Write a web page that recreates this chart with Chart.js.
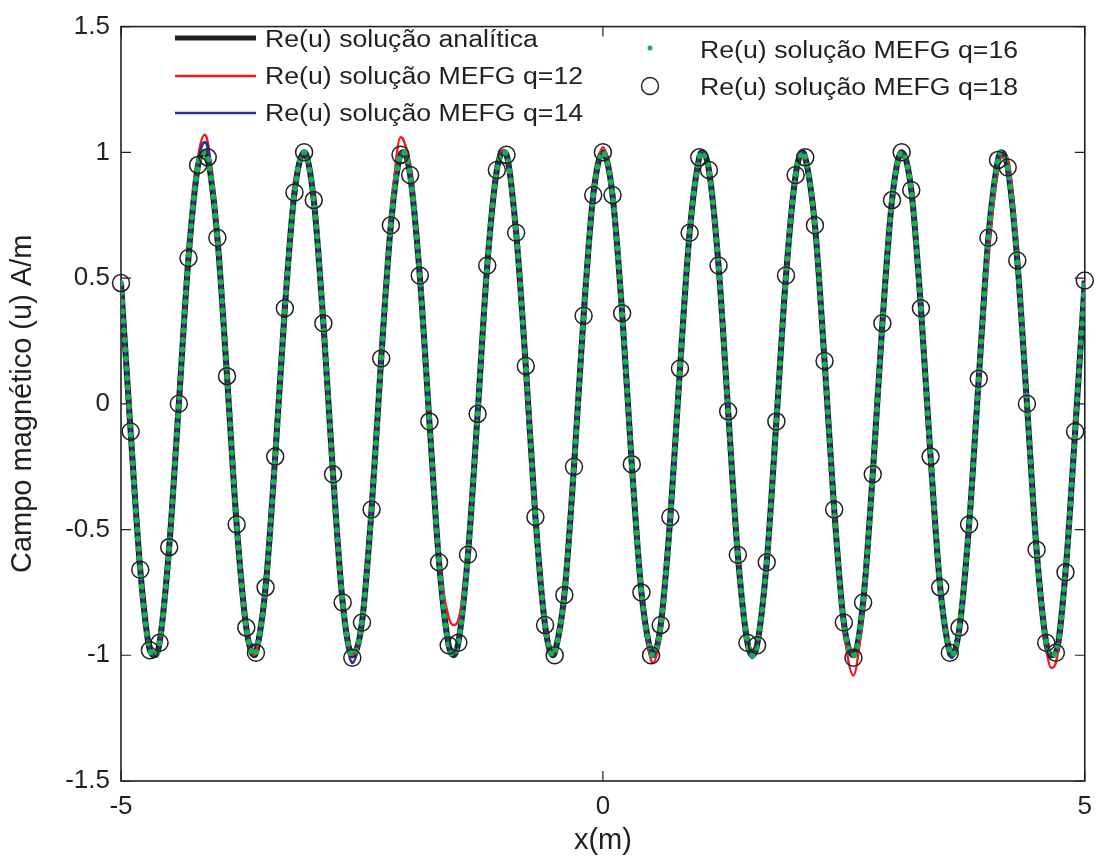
<!DOCTYPE html>
<html lang="pt">
<head>
<meta charset="utf-8">
<title>Campo magnético - soluções MEFG</title>
<script src="https://cdn.jsdelivr.net/npm/chart.js@4.4.1/dist/chart.umd.min.js"></script>
<style>
  html, body { margin: 0; padding: 0; background: #fff; }
  #grafico { display: block; }
</style>
</head>
<body>
<canvas id="grafico" width="1102" height="861"></canvas>
<script>
// --- Dados ---
const rotulos = [
    'Re(u) solução analítica',
    'Re(u) solução MEFG q=12',
    'Re(u) solução MEFG q=14',
    'Re(u) solução MEFG q=16',
    'Re(u) solução MEFG q=18'
];

// pontos (círculos) da solução q=18, um a cada 0,1 m
const xAmostras = [
    -5, -4.9, -4.8, -4.7, -4.6, -4.5, -4.4, -4.3, -4.2, -4.1,
    -4, -3.9, -3.8, -3.7, -3.6, -3.5, -3.4, -3.3, -3.2, -3.1,
    -3, -2.9, -2.8, -2.7, -2.6, -2.5, -2.4, -2.3, -2.2, -2.1,
    -2, -1.9, -1.8, -1.7, -1.6, -1.5, -1.4, -1.3, -1.2, -1.1,
    -1, -0.9, -0.8, -0.7, -0.6, -0.5, -0.4, -0.3, -0.2, -0.1,
    0,
    0.1, 0.2, 0.3, 0.4, 0.5, 0.6, 0.7, 0.8, 0.9, 1,
    1.1, 1.2, 1.3, 1.4, 1.5, 1.6, 1.7, 1.8, 1.9, 2,
    2.1, 2.2, 2.3, 2.4, 2.5, 2.6, 2.7, 2.8, 2.9, 3,
    3.1, 3.2, 3.3, 3.4, 3.5, 3.6, 3.7, 3.8, 3.9, 4,
    4.1, 4.2, 4.3, 4.4, 4.5, 4.6, 4.7, 4.8, 4.9, 5
];
const uQ18 = [
    0.48, -0.11, -0.66, -0.98, -0.95, -0.57, 0.0, 0.58, 0.95, 0.98,
    0.66, 0.11, -0.48, -0.89, -0.99, -0.73, -0.21, 0.38, 0.84, 1.0,
    0.81, 0.32, -0.28, -0.79, -1.01, -0.87, -0.42, 0.18, 0.71, 0.99,
    0.91, 0.51, -0.07, -0.63, -0.96, -0.95, -0.60, -0.04, 0.55, 0.93,
    0.99, 0.68, 0.15, -0.45, -0.88, -1.0, -0.76, -0.25, 0.35, 0.83,
    1.0,
    0.83, 0.36, -0.24, -0.75, -1.0, -0.88, -0.45, 0.14, 0.68, 0.98,
    0.93, 0.55, -0.03, -0.60, -0.95, -0.96, -0.63, -0.07, 0.51, 0.91,
    0.98, 0.71, 0.17, -0.42, -0.87, -1.01, -0.79, -0.28, 0.32, 0.81,
    1.0, 0.85, 0.38, -0.21, -0.73, -0.99, -0.89, -0.48, 0.10, 0.66,
    0.97, 0.94, 0.57, 0.0, -0.58, -0.95, -0.99, -0.67, -0.11, 0.49
];

// abscissas das curvas contínuas (grade de 0,1 m + picos e vales)
const xCurva = [
    -5, -4.9, -4.8, -4.7, -4.65, -4.6, -4.5, -4.4, -4.3, -4.2, -4.13, -4.1,
    -4, -3.9, -3.8, -3.7, -3.62, -3.6, -3.5, -3.4, -3.3, -3.2, -3.1,
    -3, -2.9, -2.8, -2.7, -2.6, -2.5, -2.4, -2.3, -2.2, -2.1, -2.07,
    -2, -1.9, -1.8, -1.7, -1.6, -1.55, -1.5, -1.4, -1.3, -1.2, -1.1, -1.03,
    -1, -0.9, -0.8, -0.7, -0.6, -0.52, -0.5, -0.4, -0.3, -0.2, -0.1,
    0, 0.1, 0.2, 0.3, 0.4, 0.5, 0.52, 0.6, 0.7, 0.8, 0.9, 1, 1.03,
    1.1, 1.2, 1.3, 1.4, 1.5, 1.55, 1.6, 1.7, 1.8, 1.9, 2, 2.07,
    2.1, 2.2, 2.3, 2.4, 2.5, 2.6, 2.7, 2.8, 2.9, 3,
    3.1, 3.2, 3.3, 3.4, 3.5, 3.6, 3.62, 3.7, 3.8, 3.9, 4,
    4.1, 4.13, 4.2, 4.3, 4.4, 4.5, 4.6, 4.65, 4.7, 4.8, 4.9, 5
];
const uAnalitica = [
    0.48, -0.11, -0.66, -0.98, -1, -0.95, -0.57, 0, 0.58, 0.95, 1, 0.98,
    0.66, 0.11, -0.48, -0.89, -1, -0.99, -0.73, -0.21, 0.38, 0.84, 1,
    0.81, 0.32, -0.28, -0.79, -1, -0.87, -0.42, 0.18, 0.71, 0.99, 1,
    0.91, 0.51, -0.07, -0.63, -0.96, -1, -0.95, -0.60, -0.04, 0.55, 0.93, 1,
    0.99, 0.68, 0.15, -0.45, -0.88, -1, -0.99, -0.76, -0.25, 0.35, 0.83,
    1, 0.83, 0.36, -0.24, -0.75, -0.99, -1, -0.88, -0.45, 0.14, 0.68, 0.98, 1,
    0.93, 0.55, -0.03, -0.60, -0.95, -1, -0.96, -0.63, -0.07, 0.51, 0.91, 1,
    0.98, 0.71, 0.17, -0.42, -0.87, -1, -0.79, -0.28, 0.32, 0.81,
    1, 0.85, 0.38, -0.21, -0.73, -0.99, -1, -0.89, -0.48, 0.10, 0.66,
    0.97, 1, 0.94, 0.57, 0, -0.58, -0.95, -1, -0.99, -0.67, -0.11, 0.49
];
const uQ12 = [
    0.48, -0.11, -0.66, -0.98, -1, -0.95, -0.57, 0, 0.58, 0.98, 1.07, 1.04,
    0.68, 0.11, -0.48, -0.89, -1, -0.99, -0.73, -0.21, 0.38, 0.84, 1,
    0.81, 0.32, -0.28, -0.79, -1, -0.87, -0.42, 0.18, 0.73, 1.06, 1.05,
    0.94, 0.51, -0.07, -0.62, -0.85, -0.88, -0.86, -0.59, -0.04, 0.55, 0.93, 1.01,
    0.99, 0.68, 0.15, -0.45, -0.88, -1, -0.99, -0.76, -0.25, 0.35, 0.83,
    1.02, 0.83, 0.36, -0.24, -0.75, -1.02, -1.03, -0.90, -0.45, 0.14, 0.68, 0.98, 1,
    0.93, 0.55, -0.03, -0.60, -0.95, -1, -0.96, -0.63, -0.07, 0.51, 0.91, 1,
    0.98, 0.71, 0.17, -0.42, -0.89, -1.08, -0.81, -0.28, 0.32, 0.81,
    1, 0.85, 0.38, -0.21, -0.73, -0.99, -1, -0.89, -0.48, 0.10, 0.60,
    0.94, 0.98, 0.97, 0.60, 0, -0.58, -0.97, -1.05, -1.03, -0.67, -0.11, 0.49
];
const uQ14 = [
    0.48, -0.11, -0.66, -0.98, -1, -0.95, -0.57, 0, 0.58, 0.96, 1.04, 1.02,
    0.66, 0.11, -0.48, -0.89, -0.96, -0.96, -0.73, -0.21, 0.38, 0.84, 1,
    0.81, 0.32, -0.28, -0.79, -1.03, -0.87, -0.42, 0.18, 0.71, 0.99, 1,
    0.91, 0.51, -0.07, -0.63, -0.96, -1, -0.95, -0.60, -0.04, 0.55, 0.93, 1,
    0.99, 0.68, 0.15, -0.45, -0.88, -1, -0.99, -0.76, -0.25, 0.35, 0.83,
    1, 0.83, 0.36, -0.24, -0.75, -0.99, -1, -0.88, -0.45, 0.14, 0.68, 0.98, 1,
    0.93, 0.55, -0.03, -0.60, -0.95, -1.01, -0.96, -0.63, -0.07, 0.51, 0.91, 1,
    0.98, 0.71, 0.17, -0.42, -0.87, -1, -0.79, -0.28, 0.32, 0.81,
    1, 0.85, 0.38, -0.21, -0.73, -0.99, -1.01, -0.89, -0.48, 0.10, 0.66,
    0.97, 1, 0.94, 0.57, 0, -0.58, -0.95, -1, -0.99, -0.67, -0.11, 0.49
];
const uQ16 = [
    0.48, -0.11, -0.66, -0.98, -1, -0.95, -0.57, 0, 0.58, 0.95, 1, 0.98,
    0.66, 0.11, -0.48, -0.89, -1, -0.99, -0.73, -0.21, 0.38, 0.84, 1,
    0.81, 0.32, -0.28, -0.79, -1, -0.87, -0.42, 0.18, 0.71, 0.99, 1,
    0.91, 0.51, -0.07, -0.63, -0.96, -1, -0.95, -0.60, -0.04, 0.55, 0.93, 1,
    0.99, 0.68, 0.15, -0.45, -0.88, -1, -0.99, -0.76, -0.25, 0.35, 0.83,
    1, 0.83, 0.36, -0.24, -0.75, -0.99, -1, -0.88, -0.45, 0.14, 0.68, 0.98, 1,
    0.93, 0.55, -0.03, -0.60, -0.95, -1, -0.96, -0.63, -0.07, 0.51, 0.91, 1,
    0.98, 0.71, 0.17, -0.42, -0.87, -1, -0.79, -0.28, 0.32, 0.81,
    1, 0.85, 0.38, -0.21, -0.73, -0.99, -1, -0.89, -0.48, 0.10, 0.66,
    0.97, 1, 0.94, 0.57, 0, -0.58, -0.95, -1, -0.99, -0.67, -0.11, 0.49
];

const ticksX = [-5, 0, 5];
const rotulosX = ['-5', '0', '5'];
const ticksY = [-1.5, -1, -0.5, 0, 0.5, 1, 1.5];
const rotulosY = ['-1.5', '-1', '-0.5', '0', '0.5', '1', '1.5'];

// --- Estilo ---
const fonte = '"Liberation Sans", Arial, Helvetica, sans-serif';
const corTexto = '#231f20';
const cores = ['#231f20', '#ed1c24', '#2e3192', '#17b04f', '#231f20'];

const pares = (xs, ys) => xs.map((x, i) => ({ x: x, y: ys[i] }));

// posições da legenda (dentro da área do gráfico)
const legendaLayout = [
    { tipo: 'linha', x0: 175, x1: 256, y: 38, tx: 265, ty: 47, largura: 5 },
    { tipo: 'linha', x0: 175, x1: 256, y: 76, tx: 265, ty: 84, largura: 2.5 },
    { tipo: 'linha', x0: 175, x1: 256, y: 113, tx: 265, ty: 121, largura: 2.5 },
    { tipo: 'ponto', cx: 650, y: 48, tx: 700, ty: 58 },
    { tipo: 'circulo', cx: 650, y: 86, tx: 700, ty: 95 }
];

// Moldura, marcas dos eixos para dentro e legenda
const molduraPlugin = {
    id: 'moldura',
    beforeDatasetsDraw(chart) {
        const { ctx, chartArea: a, scales: { x, y } } = chart;
        ctx.save();
        ctx.strokeStyle = corTexto;
        ctx.lineWidth = 1.6;
        ctx.strokeRect(a.left, a.top, a.right - a.left, a.bottom - a.top);
        ctx.lineWidth = 1.2;
        ctx.beginPath();
        ticksY.forEach(v => {
            const py = y.getPixelForValue(v);
            ctx.moveTo(a.left, py); ctx.lineTo(a.left + 10, py);
            ctx.moveTo(a.right, py); ctx.lineTo(a.right - 10, py);
        });
        ticksX.forEach(v => {
            const px = x.getPixelForValue(v);
            ctx.moveTo(px, a.bottom); ctx.lineTo(px, a.bottom - 10);
            ctx.moveTo(px, a.top); ctx.lineTo(px, a.top + 10);
        });
        ctx.stroke();
        ctx.restore();
    },
    afterDraw(chart) {
        const { ctx } = chart;
        ctx.save();
        legendaLayout.forEach((item, i) => {
            if (item.tipo === 'linha') {
                ctx.strokeStyle = cores[i];
                ctx.lineWidth = item.largura;
                ctx.beginPath();
                ctx.moveTo(item.x0, item.y);
                ctx.lineTo(item.x1, item.y);
                ctx.stroke();
            } else if (item.tipo === 'ponto') {
                ctx.fillStyle = cores[i];
                ctx.beginPath();
                ctx.arc(item.cx, item.y, 2.5, 0, Math.PI * 2);
                ctx.fill();
            } else {
                ctx.strokeStyle = cores[i];
                ctx.lineWidth = 1.4;
                ctx.beginPath();
                ctx.arc(item.cx, item.y, 8.5, 0, Math.PI * 2);
                ctx.stroke();
            }
            ctx.fillStyle = corTexto;
            ctx.font = '23px ' + fonte;
            ctx.textBaseline = 'alphabetic';
            ctx.textAlign = 'left';
            ctx.save();
            ctx.translate(item.tx, item.ty);
            ctx.scale(1.16, 1);
            ctx.fillText(rotulos[i], 0, 0);
            ctx.restore();
        });
        ctx.restore();
    }
};

const ctx = document.getElementById('grafico').getContext('2d');
new Chart(ctx, {
    type: 'line',
    data: {
        datasets: [
            {
                label: rotulos[0], data: pares(xCurva, uAnalitica),
                borderColor: cores[0], borderWidth: 6, pointRadius: 0, fill: false,
                cubicInterpolationMode: 'monotone', order: 4
            },
            {
                label: rotulos[1], data: pares(xCurva, uQ12),
                borderColor: cores[1], borderWidth: 2.5, pointRadius: 0, fill: false,
                cubicInterpolationMode: 'monotone', order: 3
            },
            {
                label: rotulos[2], data: pares(xCurva, uQ14),
                borderColor: cores[2], borderWidth: 3, pointRadius: 0, fill: false,
                cubicInterpolationMode: 'monotone', order: 2
            },
            {
                label: rotulos[3], data: pares(xCurva, uQ16),
                borderColor: cores[3], borderWidth: 6, borderDash: [0, 9.5], borderCapStyle: 'round',
                pointRadius: 0, fill: false, cubicInterpolationMode: 'monotone', order: 1
            },
            {
                label: rotulos[4], data: pares(xAmostras, uQ18),
                showLine: false, pointRadius: 8.5, pointBorderWidth: 1.5,
                pointBorderColor: cores[4], pointBackgroundColor: 'rgba(0,0,0,0)',
                clip: false, order: 0
            }
        ]
    },
    options: {
        responsive: false,
        animation: false,
        layout: { padding: { top: 20, right: 14, left: 0, bottom: 0 } },
        plugins: { legend: { display: false }, tooltip: { enabled: false } },
        scales: {
            x: {
                type: 'linear', min: -5, max: 5,
                afterBuildTicks: s => { s.ticks = ticksX.map(v => ({ value: v })); },
                afterFit: s => { s.height = 80; },
                grid: { display: false, drawTicks: false },
                border: { display: false },
                ticks: {
                    padding: 10, color: corTexto, maxRotation: 0, autoSkip: false,
                    font: { family: fonte, size: 26 },
                    callback: (v, i) => rotulosX[i]
                },
                title: {
                    display: true, text: 'x(m)', color: corTexto,
                    font: { family: fonte, size: 29 }, padding: { top: 0, bottom: 3 }
                }
            },
            y: {
                type: 'linear', min: -1.5, max: 1.5,
                afterBuildTicks: s => { s.ticks = ticksY.map(v => ({ value: v })); },
                afterFit: s => { s.width = 121; },
                grid: { display: false, drawTicks: false },
                border: { display: false },
                ticks: {
                    padding: 11, color: corTexto, autoSkip: false,
                    font: { family: fonte, size: 26 },
                    callback: (v, i) => rotulosY[i]
                },
                title: {
                    display: true, text: 'Campo magnético (u) A/m', color: corTexto,
                    font: { family: fonte, size: 29 }, padding: { top: 6, bottom: 0 }
                }
            }
        }
    },
    plugins: [molduraPlugin]
});
</script>
</body>
</html>
